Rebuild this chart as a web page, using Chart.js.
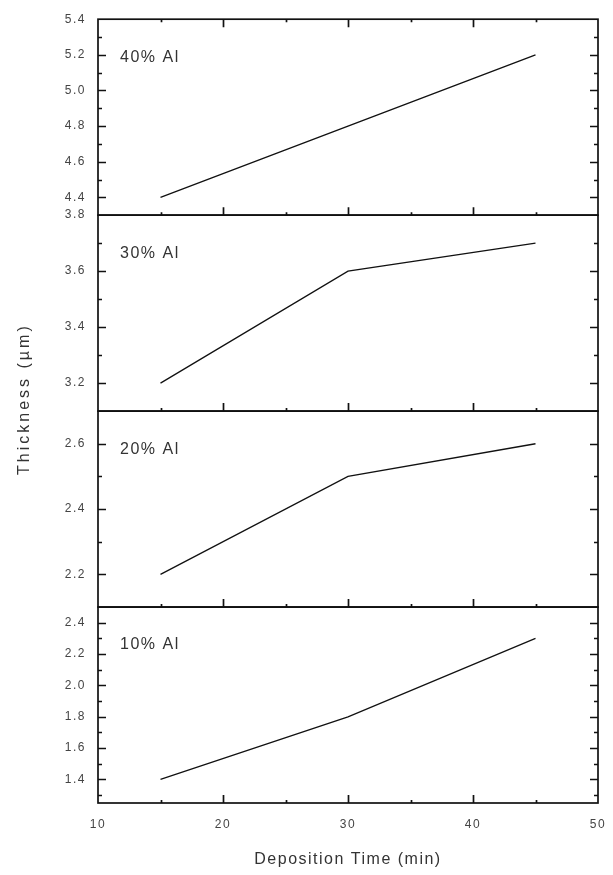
<!DOCTYPE html>
<html>
<head>
<meta charset="utf-8">
<script src="https://cdn.jsdelivr.net/npm/chart.js@4.4.0/dist/chart.umd.min.js"></script>
<style>
  body { margin: 0; background: #fff; }
  #wrap { width: 613px; height: 875px; }
</style>
</head>
<body>
<div id="wrap"><canvas id="thick" width="613" height="875"></canvas></div>
<script>
// deposition time (min), shared by all panels
const depTime = [15, 30, 45];

// film thickness (um) per Al content
const al10 = [1.4, 1.8, 2.3];
const al20 = [2.2, 2.5, 2.6];
const al30 = [3.2, 3.6, 3.7];
const al40 = [4.4, 4.8, 5.2];

// panels listed bottom to top
const panelLabels = ['10% Al', '20% Al', '30% Al', '40% Al'];
const panelSeries = [al10, al20, al30, al40];
const panelMin = [1.25, 2.1, 3.1, 4.3];
const panelMax = [2.5, 2.7, 3.8, 5.4];
const panelTicks = [
  [1.4, 1.6, 1.8, 2.0, 2.2, 2.4],
  [2.2, 2.4, 2.6],
  [3.2, 3.4, 3.6, 3.8],
  [4.4, 4.6, 4.8, 5.0, 5.2, 5.4]
];

const xTicks = [10, 20, 30, 40, 50];
const xMinor = [15, 25, 35, 45];

const FONT = "'Liberation Sans', Arial, sans-serif";
const axisIds = panelLabels.map((_, i) => 'y' + i);

const datasets = panelSeries.map((vals, i) => ({
  label: panelLabels[i],
  data: depTime.map((t, j) => ({ x: t, y: vals[j] })),
  yAxisID: axisIds[i],
  borderColor: '#111',
  borderWidth: 1.3,
  pointRadius: 0,
  tension: 0
}));

const scales = {
  x: {
    type: 'linear',
    min: 10,
    max: 50,
    afterBuildTicks: s => { s.ticks = xTicks.map(v => ({ value: v })); },
    afterFit: s => {
      s.height = 72;
      s.paddingLeft = 0;
      s.paddingRight = 0;
    },
    grid: { display: false, drawTicks: false },
    border: { display: false },
    ticks: { color: '#444', padding: 14, maxRotation: 0, font: { family: FONT, size: 12 } },
    title: {
      display: true,
      text: 'Deposition Time (min)',
      color: '#333',
      padding: { top: 0, bottom: 6 },
      font: { family: FONT, size: 16 }
    }
  }
};

axisIds.forEach((id, i) => {
  scales[id] = {
    type: 'linear',
    position: 'left',
    stack: 'panels',
    stackWeight: 1,
    min: panelMin[i],
    max: panelMax[i],
    afterBuildTicks: s => { s.ticks = panelTicks[i].map(v => ({ value: v })); },
    afterFit: s => { s.width = 98; },
    grid: { display: false, drawTicks: false },
    border: { display: false },
    ticks: {
      color: '#444',
      padding: 12,
      autoSkip: false,
      font: { family: FONT, size: 12 },
      callback: v => Number(v).toFixed(1)
    }
  };
});

// letter spacing like the original export
const spacing = {
  id: 'spacing',
  beforeDraw(chart) { chart.ctx.letterSpacing = '1.5px'; }
};

// panel frames, inward ticks, panel labels and the y title
const frame = {
  id: 'frame',
  afterDatasetsDraw(chart) {
    const { ctx, chartArea: a } = chart;
    const xs = chart.scales.x;
    ctx.save();
    ctx.strokeStyle = '#111';
    ctx.lineWidth = 1.7;
    axisIds.forEach((id, i) => {
      const s = chart.scales[id];
      ctx.strokeRect(a.left, s.top, a.right - a.left, s.bottom - s.top);

      ctx.beginPath();
      const step = (panelTicks[i][1] - panelTicks[i][0]) / 2;
      const marks = [];
      panelTicks[i].forEach(v => {
        marks.push([v, 8]);
        marks.push([v - step, 4]);
        marks.push([v + step, 4]);
      });
      marks.forEach(([v, len]) => {
        if (v <= panelMin[i] + 1e-6 || v >= panelMax[i] - 1e-6) return;
        const y = Math.round(s.getPixelForValue(v)) + 0.5;
        ctx.moveTo(a.left, y); ctx.lineTo(a.left + len, y);
        ctx.moveTo(a.right, y); ctx.lineTo(a.right - len, y);
      });
      // x ticks on the panel bottom, pointing up
      const xm = xTicks.slice(1, -1).map(v => [v, 8]).concat(xMinor.map(v => [v, 3]));
      xm.forEach(([v, len]) => {
        const x = Math.round(xs.getPixelForValue(v)) + 0.5;
        ctx.moveTo(x, s.bottom); ctx.lineTo(x, s.bottom - len);
        if (i === axisIds.length - 1) {
          ctx.moveTo(x, s.top); ctx.lineTo(x, s.top + len);
        }
      });
      ctx.stroke();

      ctx.fillStyle = '#333';
      ctx.font = '16px ' + FONT;
      ctx.letterSpacing = '1.5px';
      ctx.textBaseline = 'middle';
      ctx.textAlign = 'left';
      ctx.fillText(panelLabels[i], a.left + 22, s.top + 38);
    });

    ctx.translate(25, (a.top + a.bottom) / 2 - 12);
    ctx.rotate(-Math.PI / 2);
    ctx.font = '16px ' + FONT;
    ctx.letterSpacing = '3px';
    ctx.textAlign = 'center';
    ctx.textBaseline = 'middle';
    ctx.fillText('Thickness (\u00b5m)', 0, 0);
    ctx.restore();
  }
};

new Chart(document.getElementById('thick'), {
  type: 'line',
  data: { datasets },
  options: {
    responsive: false,
    animation: false,
    layout: { padding: { top: 17, right: 15, left: 0, bottom: 0 } },
    plugins: { legend: { display: false }, tooltip: { enabled: false } },
    scales
  },
  plugins: [spacing, frame]
});
</script>
</body>
</html>
